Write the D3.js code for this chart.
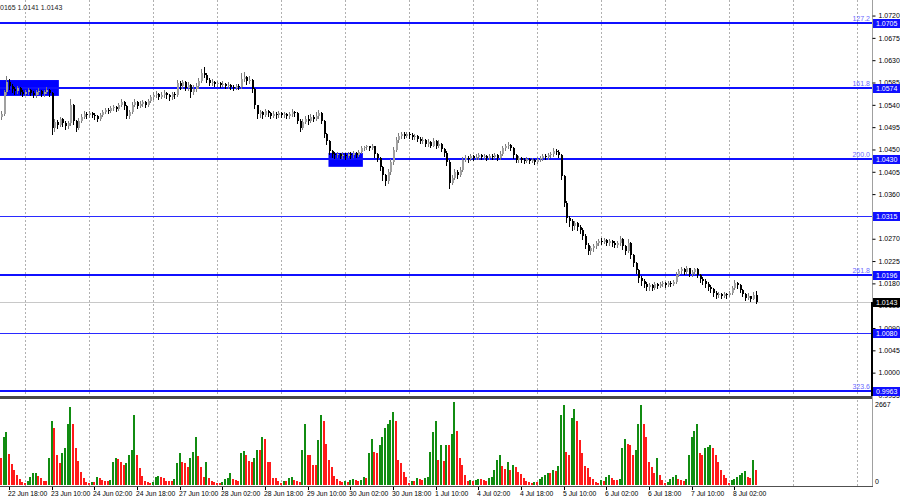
<!DOCTYPE html>
<html><head><meta charset="utf-8">
<script src="https://cdn.jsdelivr.net/npm/d3@7"></script>
<style>
body{margin:0;background:#fff}
svg{display:block}
text{font-family:'Liberation Sans Narrow','Liberation Sans',Arial,sans-serif}
</style>
</head><body>
<svg id="c" width="900" height="500"></svg>
<script>
// ---- DATA (prices in pips above 1.0000) ----
const firstOpen = 515;
const closes = [
522,566,586,578,572,568,574,566,562,566,
570,564,560,566,568,562,566,570,564,494,
506,500,512,504,498,504,540,508,494,508,
516,522,520,524,520,518,512,520,526,530,
528,534,536,532,540,546,538,518,526,540,
546,538,542,546,540,548,556,560,562,556,
560,564,560,556,562,560,584,578,586,574,
580,566,572,578,588,604,600,590,584,586,
582,584,580,582,578,580,576,574,578,576,
592,596,588,590,572,540,522,526,520,528,
524,518,522,520,524,520,522,518,522,526,
524,508,494,506,512,508,516,512,518,524,
508,482,468,446,440,438,440,436,438,436,
440,438,442,438,444,452,454,456,452,456,
440,432,414,398,386,404,424,448,470,478,
482,478,482,480,476,478,472,468,470,462,
466,458,468,456,462,450,442,424,382,392,
404,398,408,428,432,430,436,432,434,438,
434,436,432,436,434,438,432,440,452,456,
460,452,438,428,432,428,426,430,426,428,
424,430,432,436,434,438,440,446,444,438,
396,342,312,306,296,302,294,288,276,258,
246,252,256,262,266,264,268,262,266,262,
258,262,270,256,246,262,238,222,206,190,
184,178,172,176,170,178,174,178,180,176,
180,178,182,196,204,208,202,210,198,202,
208,196,188,184,178,172,168,160,156,158,
154,158,156,160,170,180,176,166,158,150,
154,148,156,143];
const highs = [
528,570,598,592,582,576,578,576,570,570,
574,572,568,570,574,570,570,576,572,566,
512,510,516,514,508,508,552,542,510,514,
522,528,526,528,526,524,520,524,530,534,
534,538,540,538,544,552,548,540,530,546,
552,548,548,550,548,552,560,566,568,564,
566,570,566,562,566,566,590,588,590,588,
586,582,580,584,594,612,616,604,594,592,
588,588,586,588,584,586,582,580,582,582,
604,606,598,598,592,574,540,530,528,532,
530,526,528,526,528,526,526,524,526,532,
528,526,512,512,518,520,522,520,526,530,
526,510,484,470,448,444,444,442,444,442,
444,444,446,444,448,456,458,460,458,462,
456,442,434,416,400,410,430,454,476,484,
486,486,486,486,484,482,480,476,476,472,
472,468,474,470,470,464,452,446,428,398,
410,408,414,434,438,436,440,438,440,442,
440,440,438,440,440,442,440,446,456,462,
466,462,454,440,436,434,432,434,432,432,
430,434,436,440,440,442,444,452,450,448,
440,398,346,316,310,306,304,298,292,280,
262,256,260,266,270,272,272,270,270,268,
266,266,276,272,258,270,264,240,224,208,
194,188,182,180,178,182,180,182,184,182,
184,184,186,202,208,214,212,216,212,206,
212,210,198,192,188,182,176,170,164,162,
160,162,160,164,174,186,182,178,168,160,
160,154,162,165];
const lows = [
512,520,562,572,566,562,564,562,558,560,
562,560,556,556,562,558,558,564,558,482,
488,494,498,498,492,494,500,502,488,492,
506,514,514,516,516,512,508,510,518,524,
524,526,530,528,530,538,532,514,514,524,
538,534,536,538,536,538,546,552,556,552,
554,556,554,550,552,554,558,572,574,570,
570,556,562,568,574,586,596,586,580,580,
578,578,576,578,574,574,572,570,572,572,
574,588,582,584,566,534,514,516,514,518,
518,514,516,514,516,516,516,514,514,518,
518,504,488,492,504,502,506,508,510,514,
504,476,462,440,434,432,434,432,432,430,
434,432,434,434,436,442,448,450,448,450,
434,426,408,388,378,382,400,420,446,466,
474,474,476,474,472,472,468,464,464,458,
458,454,456,452,454,446,436,418,372,380,
390,392,396,406,426,424,428,428,430,430,
430,430,428,430,430,432,428,430,438,448,
452,448,432,424,424,424,422,424,422,424,
420,422,426,428,430,430,434,436,440,434,
390,336,304,296,288,290,288,282,270,252,
240,240,246,252,258,260,262,258,258,256,
254,254,258,250,240,244,232,216,200,182,
176,172,166,166,166,168,170,172,174,172,
174,174,176,180,194,200,198,200,194,194,
198,192,182,178,172,166,162,154,150,152,
150,152,150,154,158,168,170,162,154,146,
148,144,148,141];
const volumes = [
850,1500,1650,970,660,470,315,190,95,65,
125,250,375,380,280,220,125,125,850,2000,
1800,940,690,1000,1160,1900,2450,1900,1160,750,
410,220,95,65,95,95,250,220,160,125,
125,160,720,850,820,720,630,690,940,1100,
2200,940,530,280,125,95,65,95,250,280,
250,220,125,125,125,190,690,1000,720,690,
565,850,1040,1500,910,565,250,720,220,125,
95,65,65,95,190,220,375,190,160,125,
1000,1070,940,750,720,850,1100,1100,1500,1450,
720,720,220,220,125,65,125,125,220,250,
160,125,95,1100,1900,940,940,630,630,1400,
2200,2000,1300,800,560,280,190,125,95,125,
95,160,190,160,125,160,250,220,1000,1450,
1050,1000,1250,1500,1800,1900,2050,2300,2000,800,
700,400,250,65,125,125,220,190,160,220,
250,1040,1650,2000,780,1250,750,1250,1250,1600,
2600,1700,840,630,300,125,150,125,160,190,
190,160,125,220,250,470,800,940,600,500,
720,470,630,560,400,350,220,125,95,65,
95,95,190,250,315,375,375,470,440,600,
2200,2500,1050,950,2100,2400,2000,1400,1000,600,
520,250,180,95,65,160,125,250,315,220,
160,160,190,1160,1450,1300,1250,940,1100,1900,
2500,1900,1500,720,560,375,850,320,160,65,
100,190,260,300,200,150,120,190,940,1500,
1700,1900,1000,940,1160,1200,1250,1160,940,720,
470,310,220,65,160,190,250,310,375,440,
250,220,785,470];
const volumeMax = 2667;
const priceTicks = [1.0720,1.0675,1.0630,1.0585,1.0540,1.0495,1.0450,1.0405,1.0360,1.0270,1.0225,1.0180,1.0135,1.0090,1.0045,1.0000,0.9955];
const levelPrices = [1.0705,1.0574,1.0430,1.0315,1.0196,1.0080,0.9963];
const levelNames  = ["127.2","161.8","200.0","","261.8","","323.6"];
const lastPrice = 1.0143;
const headerText = "0165 1.0141 1.0143";
const zoneStart = [-0.4, 122.8];
const zoneEnd   = [21.7, 135.7];
const zoneTop   = [1.0590, 1.0443];
const zoneBottom= [1.0558, 1.0415];
const daySeparators = [9,33,57,81,105,129,153,177,201,225,249,273,297,321];
const timeLabelIndex = [3,19,35,51,67,83,99,115,131,147,163,179,195,211,227,243,259,275];
const timeLabels = ["22 Jun 18:00","23 Jun 10:00","24 Jun 02:00","24 Jun 18:00","27 Jun 10:00","28 Jun 02:00","28 Jun 18:00","29 Jun 10:00","30 Jun 02:00","30 Jun 18:00","1 Jul 10:00","4 Jul 02:00","4 Jul 18:00","5 Jul 10:00","6 Jul 02:00","6 Jul 18:00","7 Jul 10:00","8 Jul 02:00"];

// ---- CHART ----
const plotR = 872, priceBottom = 396, volTop = 399, volBottom = 486;
const svg = d3.select('#c');
const x = d3.scaleLinear().domain([0, 1]).range([1, 1 + 2.6667]);
const y = d3.scaleLinear().domain([0.9963, 1.0705]).range([391, 23]);
const vy = d3.scaleLinear().domain([0, volumeMax]).range([485, 400]);
const P = v => 1 + v / 10000;
const cx = i => Math.round(x(i));
const ry = p => Math.round(y(p));

const defs = svg.append('defs');
defs.append('clipPath').attr('id','cp').append('rect').attr('x',0).attr('y',0).attr('width',plotR).attr('height',priceBottom);
defs.append('clipPath').attr('id','cv').append('rect').attr('x',0).attr('y',volTop).attr('width',plotR).attr('height',volBottom-volTop);

// gridlines (day separators)
svg.append('g').selectAll('line').data(daySeparators).join('line')
  .attr('x1', d => cx(d) + 0.5).attr('x2', d => cx(d) + 0.5)
  .attr('y1', 0).attr('y2', volBottom)
  .attr('stroke', '#b0b0b0').attr('stroke-dasharray', '2,2').attr('stroke-width', 1);

const gp = svg.append('g').attr('clip-path', 'url(#cp)');
// zones
gp.selectAll('rect.zone').data(zoneStart).join('rect').attr('class','zone')
  .attr('x', (d,k) => x(d)).attr('width', (d,k) => x(zoneEnd[k]) - x(d))
  .attr('y', (d,k) => y(zoneTop[k])).attr('height', (d,k) => y(zoneBottom[k]) - y(zoneTop[k]))
  .attr('fill', '#0000ff');

// current price line
gp.append('line').attr('x1',0).attr('x2',plotR).attr('y1', ry(lastPrice)+0.5).attr('y2', ry(lastPrice)+0.5)
  .attr('stroke','#c8c8c8').attr('stroke-width',1);

// levels
gp.selectAll('line.lvl').data(levelPrices).join('line').attr('class','lvl')
  .attr('x1',0).attr('x2',plotR)
  .attr('y1', (d,k) => ry(d) + (levelNames[k] ? 0 : 0.5))
  .attr('y2', (d,k) => ry(d) + (levelNames[k] ? 0 : 0.5))
  .attr('stroke', (d,k) => levelNames[k] ? '#1010ff' : '#2a2aff')
  .attr('stroke-width', (d,k) => levelNames[k] ? 2 : 1);

// candles
const idx = d3.range(closes.length);
const opens = idx.map(i => i === 0 ? firstOpen : closes[i-1]);
const cg = gp.append('g').attr('shape-rendering','crispEdges');
cg.selectAll('rect.wick').data(idx).join('rect').attr('class','wick')
  .attr('x', i => cx(i)).attr('width', 1)
  .attr('y', i => ry(P(Math.max(highs[i], opens[i], closes[i]))))
  .attr('height', i => Math.max(1, ry(P(Math.min(lows[i], opens[i], closes[i]))) - ry(P(Math.max(highs[i], opens[i], closes[i]))) + 1))
  .attr('fill', i => closes[i] >= opens[i] ? '#7a7a7a' : '#000');
cg.selectAll('rect.body').data(idx).join('rect').attr('class','body')
  .attr('x', i => cx(i)).attr('width', 2)
  .attr('y', i => ry(P(Math.max(opens[i], closes[i]))))
  .attr('height', i => Math.max(1, ry(P(Math.min(opens[i], closes[i]))) - ry(P(Math.max(opens[i], closes[i])))))
  .attr('fill', i => closes[i] >= opens[i] ? '#a0a0a0' : '#000');

// volumes (green when volume rises, red when it falls)
const gv = svg.append('g').attr('clip-path','url(#cv)').attr('shape-rendering','crispEdges');
gv.selectAll('rect').data(volumes).join('rect')
  .attr('x', (d,i) => cx(i) - 1).attr('width', 2)
  .attr('y', d => Math.round(vy(d))).attr('height', d => Math.round(vy(0)) - Math.round(vy(d)))
  .attr('fill', (d,i) => (i > 0 && d > volumes[i-1]) ? '#118c11' : '#ff1a1a');

// frames
svg.append('rect').attr('x',0).attr('y',priceBottom).attr('width',plotR+1).attr('height',3).attr('fill','#4a4a4a');
svg.append('rect').attr('x',0).attr('y',volBottom).attr('width',plotR+1).attr('height',1).attr('fill','#505050');
svg.append('rect').attr('x',plotR).attr('y',0).attr('width',1).attr('height',volBottom).attr('fill','#a0a0a0');
svg.append('rect').attr('x',plotR-1).attr('y',ry(lastPrice)).attr('width',2).attr('height',priceBottom-ry(lastPrice)).attr('fill','#000');

// right price axis
const ax = svg.append('g').attr('transform', `translate(${plotR+0.5},0)`)
  .call(d3.axisRight(y).tickValues(priceTicks).tickFormat(d3.format('.4f')).tickSize(3).tickPadding(3));
ax.select('.domain').remove();
ax.selectAll('text').attr('font-size', 7).attr('fill', '#000').style('font-family',"'Liberation Sans Narrow','Liberation Sans',Arial,sans-serif");
ax.selectAll('line').attr('stroke', '#000');

// level labels
const lg = svg.append('g');
lg.selectAll('rect').data(levelPrices).join('rect')
  .attr('x', plotR+1).attr('width', 27).attr('y', d => ry(d) - 4).attr('height', 9).attr('fill', '#1010ff');
lg.selectAll('text.v').data(levelPrices).join('text').attr('class','v')
  .attr('x', plotR+4).attr('y', d => ry(d) + 3).attr('font-size', 7).attr('fill','#fff')
  .text(d => d3.format('.4f')(d));
lg.selectAll('text.n').data(levelPrices).join('text').attr('class','n')
  .attr('x', plotR-2).attr('y', d => ry(d) - 2).attr('text-anchor','end').attr('font-size', 7).attr('fill','#6a6aff')
  .text((d,k) => levelNames[k]);
// last price label
svg.append('rect').attr('x', plotR+1).attr('width', 27).attr('y', ry(lastPrice) - 4).attr('height', 9).attr('fill','#000');
svg.append('text').attr('x', plotR+4).attr('y', ry(lastPrice)+3).attr('font-size',7).attr('fill','#fff').text(d3.format('.4f')(lastPrice));

// volume axis labels
svg.append('text').attr('x', plotR+3).attr('y', vy(volumeMax)+7).attr('font-size',7).attr('fill','#000').text(volumeMax);
svg.append('text').attr('x', plotR+3).attr('y', vy(0)-1).attr('font-size',7).attr('fill','#000').text('0');

// time axis
const tg = svg.append('g');
tg.selectAll('line').data(timeLabelIndex).join('line')
  .attr('x1', d => cx(d)+0.5).attr('x2', d => cx(d)+0.5).attr('y1', volBottom+1).attr('y2', volBottom+4).attr('stroke','#000');
tg.selectAll('text').data(timeLabelIndex).join('text')
  .attr('x', d => cx(d) - 1).attr('y', 496).attr('font-size', 6.8).attr('fill','#000')
  .text((d,k) => timeLabels[k]);

// header
svg.append('text').attr('x', 0).attr('y', 10).attr('font-size', 7).attr('fill','#222').text(headerText);
</script>
</body></html>
